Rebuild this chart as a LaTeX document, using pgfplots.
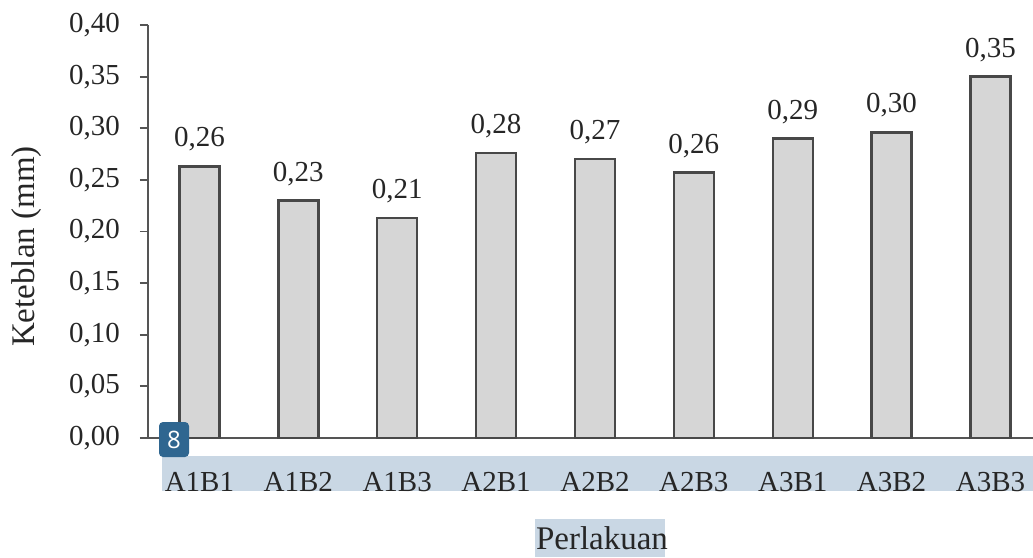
\documentclass[border=0pt]{standalone}
\usepackage{fontspec}
\setmainfont{Liberation Serif}
\newfontfamily\badgefont{Open Sans}
\usepackage{pgfplots}
\pgfplotsset{compat=1.18}
\definecolor{barfill}{HTML}{D6D6D6}
\definecolor{baredge}{HTML}{484848}
\definecolor{axiscol}{HTML}{555555}
\definecolor{txt}{HTML}{262626}
\definecolor{hl}{HTML}{C9D7E4}
\definecolor{badge}{HTML}{2F6690}
\begin{document}
\begin{tikzpicture}[font=\fontsize{29}{34}\selectfont]
\path[use as bounding box] (-148pt,-119pt) rectangle (885pt,438pt);
\fill[hl] (14pt,-18pt) rectangle (885pt,-53pt);
\fill[hl] (387pt,-81pt) rectangle (517pt,-119pt);
\begin{axis}[
  at={(0,0)}, anchor=south west,
  scale only axis, width=885pt, height=413pt,
  xmin=-0.52, xmax=8.43, ymin=0, ymax=0.4,
  axis x line*=bottom, axis y line*=left,
  axis line style={axiscol, line width=1.8pt, -},
  every outer x axis line/.append style={-},
  every outer y axis line/.append style={-},
  tick align=outside, major tick length=8pt,
  xtick style={draw=none},
  ytick style={axiscol, line width=1.8pt},
  xtick={0,1,2,3,4,5,6,7,8},
  xticklabels={A1B1,A1B2,A1B3,A2B1,A2B2,A2B3,A3B1,A3B2,A3B3},
  ytick={0,0.05,0.10,0.15,0.20,0.25,0.30,0.35,0.40},
  /pgf/number format/assume math mode=true,
  /pgf/number format/use comma,
  /pgf/number format/fixed,
  /pgf/number format/fixed zerofill,
  /pgf/number format/precision=2,
  tick label style={text=txt, font=\fontsize{29}{34}\selectfont},
  yticklabel style={anchor=east, inner sep=0pt, xshift=-20pt},
  xticklabel style={anchor=base, inner sep=0pt, yshift=-45pt},
  ylabel={Keteblan (mm)},
  ylabel style={at={([xshift=-121pt,yshift=-15pt]axis description cs:0,0.5)}, anchor=center, text=txt, font=\fontsize{33}{38}\selectfont},
  xlabel={Perlakuan},
  xlabel style={at={([xshift=11.5pt,yshift=-111pt]axis description cs:0.5,0)}, anchor=base, inner sep=0pt, text=txt, font=\fontsize{33}{38}\selectfont},
  ybar, bar width=40pt,
  nodes near coords={\pgfmathprintnumber[fixed,fixed zerofill,precision=2,use comma,assume math mode=true]{\pgfplotspointmeta}},
  every node near coord/.append style={anchor=base, inner sep=0pt, yshift=19.5pt, text=txt, font=\fontsize{29}{34}\selectfont},
  clip=false,
]
\addplot[fill=barfill, draw=baredge, line width=2.4pt] coordinates {
  (0,0.263) (1,0.230) (2,0.213) (3,0.276) (4,0.270) (5,0.257) (6,0.290) (7,0.296) (8,0.350)
};
\end{axis}
\node[fill=badge, rounded corners=4pt, minimum width=30pt, minimum height=35pt, inner sep=0pt, text=white, font=\badgefont\fontsize{24}{28}\selectfont] at (26pt,-1.5pt) {8};
\end{tikzpicture}
\end{document}
